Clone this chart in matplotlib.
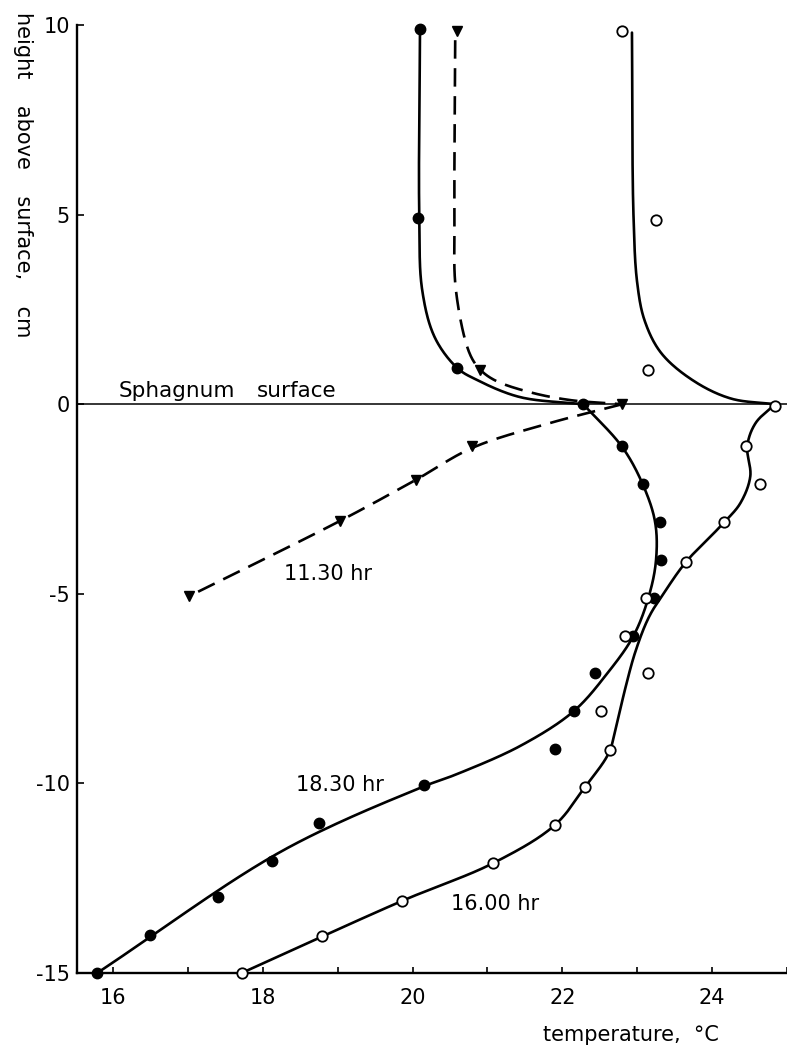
import numpy as np
import matplotlib
matplotlib.use("Agg")
import matplotlib.pyplot as plt

plt.rcParams['font.family'] = ['DejaVu Sans']
plt.rcParams['axes.unicode_minus'] = False

# ---- measured points ----
temp_1830 = [20.10, 20.07, 20.60, 22.28, 22.80, 23.08, 23.30, 23.32, 23.22, 22.95,
             22.43, 22.15, 21.90, 20.15, 18.75, 18.12, 17.40, 16.50, 15.79]
height_1830 = [9.9, 4.9, 0.95, 0.0, -1.1, -2.1, -3.1, -4.1, -5.1, -6.1,
               -7.1, -8.1, -9.1, -10.05, -11.05, -12.05, -13.0, -14.0, -15.0]

temp_1600 = [22.80, 23.25, 23.15, 24.84, 24.45, 24.64, 24.16, 23.65, 23.12, 22.84,
             23.15, 22.52, 22.64, 22.30, 21.90, 21.08, 19.86, 18.79, 17.72]
height_1600 = [9.85, 4.85, 0.9, -0.05, -1.1, -2.1, -3.1, -4.15, -5.1, -6.1,
               -7.1, -8.1, -9.13, -10.1, -11.1, -12.1, -13.1, -14.03, -15.0]

temp_1130 = [20.59, 20.90, 22.80, 20.80, 20.04, 19.03, 17.01]
height_1130 = [9.84, 0.9, 0.0, -1.1, -2.0, -3.08, -5.07]

# ---- hand-drawn smooth curves ----
c1830_air_T = [20.10, 20.09, 20.13, 20.30, 20.60, 20.85, 21.43, 22.28]
c1830_air_h = [9.9, 5.0, 3.0, 1.75, 0.95, 0.65, 0.19, 0.0]
c1830_peat_T = [22.28, 22.80, 23.08, 23.24, 23.25, 23.15, 22.95, 22.60, 22.15, 21.45,
                20.60, 20.15, 18.27, 15.79]
c1830_peat_h = [0.0, -1.13, -2.14, -3.12, -4.14, -5.1, -6.11, -7.1, -8.1, -9.0,
                -9.75, -10.08, -11.77, -15.0]

c1600_air_T = [22.93, 22.95, 23.00, 23.10, 23.32, 23.75, 24.25, 24.84]
c1600_air_h = [9.8, 5.0, 3.2, 2.2, 1.35, 0.62, 0.15, 0.0]
c1600_peat_T = [24.84, 24.58, 24.47, 24.51, 24.38, 24.16, 23.66, 23.38,
                23.16, 22.98, 22.84, 22.72, 22.62, 22.30, 21.90, 21.08, 19.86, 17.72]
c1600_peat_h = [0.0, -0.5, -1.1, -1.9, -2.6, -3.12, -4.14, -4.91,
                -5.6, -6.5, -7.5, -8.5, -9.2, -10.1, -11.1, -12.1, -13.1, -15.0]

c1130_air_T = [20.57, 20.56, 20.58, 20.76, 20.90, 21.10, 21.56, 22.10, 22.80]
c1130_air_h = [9.6, 5.0, 3.0, 1.35, 0.92, 0.63, 0.32, 0.11, 0.0]
c1130_peat_T = [22.80, 21.83, 20.80, 20.04, 19.03, 17.01]
c1130_peat_h = [0.0, -0.5, -1.15, -2.0, -3.08, -5.07]

x_major = [16, 18, 20, 22, 24]
x_minor = [17, 19, 21, 23, 25]
y_ticks = [-15, -10, -5, 0, 5, 10]
y_labels = ['-15', '-10', '-5', '0', '5', '10']


def smooth(T, h, n=30, alpha=0.5, sx=75.0, sy=37.9):
    P = np.column_stack([np.asarray(T, float) * sx, np.asarray(h, float) * sy])
    Q = np.vstack([2 * P[0] - P[1], P, 2 * P[-1] - P[-2]])
    out = []
    for i in range(len(P) - 1):
        p0, p1, p2, p3 = Q[i], Q[i + 1], Q[i + 2], Q[i + 3]
        t0 = 0.0
        t1 = t0 + np.linalg.norm(p1 - p0) ** alpha
        t2 = t1 + np.linalg.norm(p2 - p1) ** alpha
        t3 = t2 + np.linalg.norm(p3 - p2) ** alpha
        t = np.linspace(t1, t2, n)[:, None]
        A1 = (t1 - t) / (t1 - t0) * p0 + (t - t0) / (t1 - t0) * p1
        A2 = (t2 - t) / (t2 - t1) * p1 + (t - t1) / (t2 - t1) * p2
        A3 = (t3 - t) / (t3 - t2) * p2 + (t - t2) / (t3 - t2) * p3
        B1 = (t2 - t) / (t2 - t0) * A1 + (t - t0) / (t2 - t0) * A2
        B2 = (t3 - t) / (t3 - t1) * A2 + (t - t1) / (t3 - t1) * A3
        C = (t2 - t) / (t2 - t1) * B1 + (t - t1) / (t2 - t1) * B2
        out.append(C if i == 0 else C[1:])
    C = np.vstack(out)
    return C[:, 0] / sx, C[:, 1] / sy


fig = plt.figure(figsize=(7.87, 10.47), dpi=100)
ax = fig.add_axes([0.0978, 0.0707, 0.9022, 0.9054])
ax.set_xlim(15.52, 25.0)
ax.set_ylim(-15, 10)

for s in ['top', 'right']:
    ax.spines[s].set_visible(False)
for s in ['left', 'bottom']:
    ax.spines[s].set_linewidth(1.7)

# surface line
ax.axhline(0, color='black', lw=1.1, zorder=1)

lw = 1.9
for T, h in [(c1830_air_T, c1830_air_h), (c1830_peat_T, c1830_peat_h),
             (c1600_air_T, c1600_air_h), (c1600_peat_T, c1600_peat_h)]:
    xs, ys = smooth(T, h)
    ax.plot(xs, ys, color='black', lw=lw, solid_capstyle='round', zorder=2, clip_on=False)
for T, h in [(c1130_air_T, c1130_air_h), (c1130_peat_T, c1130_peat_h)]:
    xs, ys = smooth(T, h)
    ax.plot(xs, ys, color='black', lw=lw, dashes=(7.0, 3.6), zorder=2, clip_on=False)

ax.plot(temp_1830, height_1830, 'o', color='black', ms=7.5, zorder=4, clip_on=False)
ax.plot(temp_1600, height_1600, 'o', mfc='white', mec='black', mew=1.3, ms=7.5,
        zorder=4, clip_on=False)
ax.plot(temp_1130, height_1130, 'v', color='black', ms=7, zorder=4, clip_on=False)

# ticks
ax.set_xticks(x_major)
ax.set_xticks(x_minor, minor=True)
ax.set_xticklabels([str(v) for v in x_major])
ax.set_yticks(y_ticks)
ax.set_yticklabels(y_labels)
ax.tick_params(axis='x', which='both', direction='in', length=4.3, width=1.2,
               pad=11, labelsize=15)
ax.tick_params(axis='y', direction='in', length=5, width=1.2, pad=5, labelsize=15)

# annotations
ax.text(16.07, 0.2, 'Sphagnum', fontsize=15.5, ha='left', va='baseline')
ax.text(17.92, 0.2, 'surface', fontsize=15.5, ha='left', va='baseline')
ax.text(18.29, -4.49, '11.30 hr', fontsize=15, ha='left', va='center')
ax.text(18.45, -10.05, '18.30 hr', fontsize=15, ha='left', va='center')
ax.text(20.52, -13.17, '16.00 hr', fontsize=15, ha='left', va='center')

fig.text(23 / 787, 1 - 12 / 1047, 'height    above    surface,    cm', rotation=270,
         ha='center', va='top', fontsize=15)
fig.text(543 / 787, 1 - 1041 / 1047, 'temperature,  °C', ha='left', va='baseline',
         fontsize=15)

fig.savefig('out.png', dpi=100)
